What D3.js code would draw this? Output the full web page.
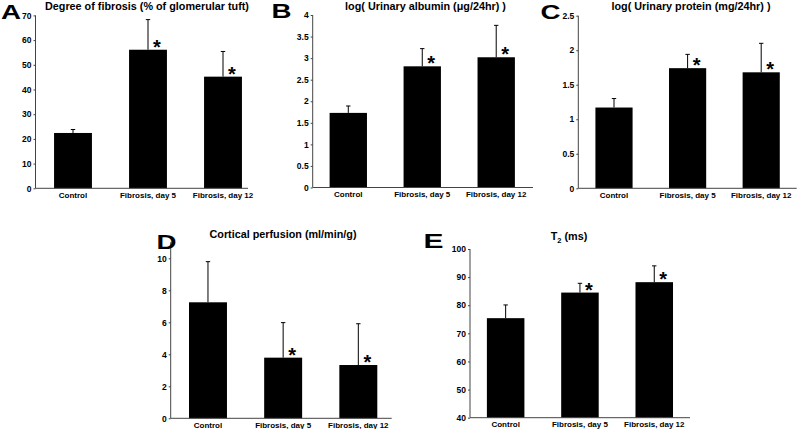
<!DOCTYPE html>
<html><head><meta charset="utf-8">
<script src="https://cdn.jsdelivr.net/npm/d3@7"></script>
<style>
body{margin:0;background:#fff;}
svg{display:block;font-family:"Liberation Sans",Arial,sans-serif;font-weight:bold;}
</style></head>
<body><svg id="c" width="799" height="429"></svg>
<script>
// ---- data ----
const categories = ["Control", "Fibrosis, day 5", "Fibrosis, day 12"];
const significant = [false, true, true];

const fibrosisMean = [22.4, 56.1, 45.2];
const fibrosisSD   = [1.4, 12.2, 10.2];
const fibrosisTicks = [0, 10, 20, 30, 40, 50, 60, 70];

const albuminMean = [1.73, 2.81, 3.02];
const albuminSD   = [0.16, 0.41, 0.74];
const albuminTicks = [0, 0.5, 1, 1.5, 2, 2.5, 3, 3.5, 4];

const proteinMean = [1.17, 1.74, 1.68];
const proteinSD   = [0.13, 0.20, 0.42];
const proteinTicks = [0, 0.5, 1, 1.5, 2, 2.5];

const perfusionMean = [7.25, 3.79, 3.33];
const perfusionSD   = [2.54, 2.19, 2.58];
const perfusionTicks = [0, 2, 4, 6, 8, 10];

const t2Mean = [75.4, 84.5, 88.2];
const t2SD   = [4.7, 3.3, 5.8];
const t2Ticks = [40, 50, 60, 70, 80, 90, 100];

// ---- layout ----
const panels = [
  {letter:"A", title:["Degree of fibrosis (% of glomerular tuft)"], mean:fibrosisMean, sd:fibrosisSD, ticks:fibrosisTicks,
   domain:[0,70], axX:35.5, bandStart:35.5, bandW:225, axEnd:248, yTop:15.4, yBot:188.3,
   titleX:147, titleY:10, letterX:1, letterY:19},
  {letter:"B", title:["log( Urinary albumin (μg/24hr) )"], mean:albuminMean, sd:albuminSD, ticks:albuminTicks,
   domain:[0,4], axX:312.7, bandStart:311.3, bandW:221.9, axEnd:533, yTop:15, yBot:187.5,
   titleX:425.5, titleY:10, letterX:271.5, letterY:18},
  {letter:"C", title:["log( Urinary protein (mg/24hr) )"], mean:proteinMean, sd:proteinSD, ticks:proteinTicks,
   domain:[0,2.5], axX:578.3, bandStart:577.2, bandW:220.8, axEnd:796.7, yTop:15.7, yBot:188.3,
   titleX:691, titleY:10, letterX:540.5, letterY:18.5},
  {letter:"D", title:["Cortical perfusion (ml/min/g)"], mean:perfusionMean, sd:perfusionSD, ticks:perfusionTicks,
   domain:[0,11], axX:170.7, bandStart:170.4, bandW:225.5, axEnd:391.7, yTop:242.3, yBot:418.3,
   titleX:283, titleY:237.5, letterX:156.5, letterY:249},
  {letter:"E", title:["T", "2", " (ms)"], mean:t2Mean, sd:t2SD, ticks:t2Ticks,
   domain:[40,100], axX:470, bandStart:468.5, bandW:222.9, axEnd:690, yTop:249, yBot:417.7,
   titleX:569, titleY:239.5, letterX:423.5, letterY:248}
];

const svg = d3.select("#c");
const axisColor = "#444";

panels.forEach(p => {
  const g = svg.append("g");
  const x = d3.scaleBand().domain(categories).range([p.bandStart, p.bandStart + p.bandW]).padding(0);
  const y = d3.scaleLinear().domain(p.domain).range([p.yBot, p.yTop]);
  const bw = x.bandwidth() * 0.505;
  const cx = c => x(c) + x.bandwidth() / 2;

  // bars
  g.selectAll("rect.bar").data(categories).enter().append("rect")
    .attr("x", c => cx(c) - bw / 2)
    .attr("y", (c, i) => y(p.mean[i]))
    .attr("width", bw)
    .attr("height", (c, i) => y(p.domain[0]) - y(p.mean[i]))
    .attr("fill", "#000");

  // error bars (upper only)
  categories.forEach((c, i) => {
    const top = y(p.mean[i] + p.sd[i]);
    g.append("line").attr("x1", cx(c)).attr("x2", cx(c))
      .attr("y1", y(p.mean[i])).attr("y2", top)
      .attr("stroke", "#000").attr("stroke-width", 1);
    g.append("line").attr("x1", cx(c) - 2.2).attr("x2", cx(c) + 2.2)
      .attr("y1", top).attr("y2", top)
      .attr("stroke", "#000").attr("stroke-width", 1);
    if (significant[i]) {
      g.append("text").attr("x", cx(c) + 9).attr("y", y(p.mean[i]) - 7.5 + 11.5)
        .attr("text-anchor", "middle").attr("font-size", 20).text("*");
    }
  });

  // y axis
  const ax = g.append("g").attr("transform", `translate(${p.axX},0)`)
    .call(d3.axisLeft(y).tickValues(p.ticks).tickSize(2).tickPadding(2).tickFormat(d => String(d)));
  ax.select(".domain").remove();
  ax.selectAll(".tick line").attr("stroke", axisColor);
  ax.selectAll(".tick text").attr("font-size", 8.5).attr("font-family", "Liberation Sans, Arial, sans-serif")
    .attr("font-weight", "bold").attr("fill", "#000");
  g.append("line").attr("x1", p.axX).attr("x2", p.axX)
    .attr("y1", p.yBot).attr("y2", p.yTop).attr("stroke", axisColor).attr("stroke-width", 1);

  // x axis
  g.append("line").attr("x1", p.axX).attr("x2", p.axEnd)
    .attr("y1", p.yBot).attr("y2", p.yBot).attr("stroke", axisColor).attr("stroke-width", 1);
  g.selectAll("text.cat").data(categories).enter().append("text")
    .attr("x", c => cx(c)).attr("y", p.yBot + 9.5)
    .attr("text-anchor", "middle").attr("font-size", 8).text(c => c);

  // title
  const t = g.append("text").attr("x", p.titleX).attr("y", p.titleY)
    .attr("text-anchor", "middle").attr("font-size", 10.8);
  if (p.title.length === 1) {
    t.text(p.title[0]);
  } else {
    t.append("tspan").text(p.title[0]);
    t.append("tspan").attr("font-size", 7.5).attr("dy", 3).text(p.title[1]);
    t.append("tspan").attr("dy", -3).text(p.title[2]);
  }

  // panel letter
  g.append("text").attr("x", p.letterX).attr("y", p.letterY)
    .attr("font-size", 21).attr("textLength", 20).attr("lengthAdjust", "spacingAndGlyphs")
    .text(p.letter);
});
</script></body></html>
